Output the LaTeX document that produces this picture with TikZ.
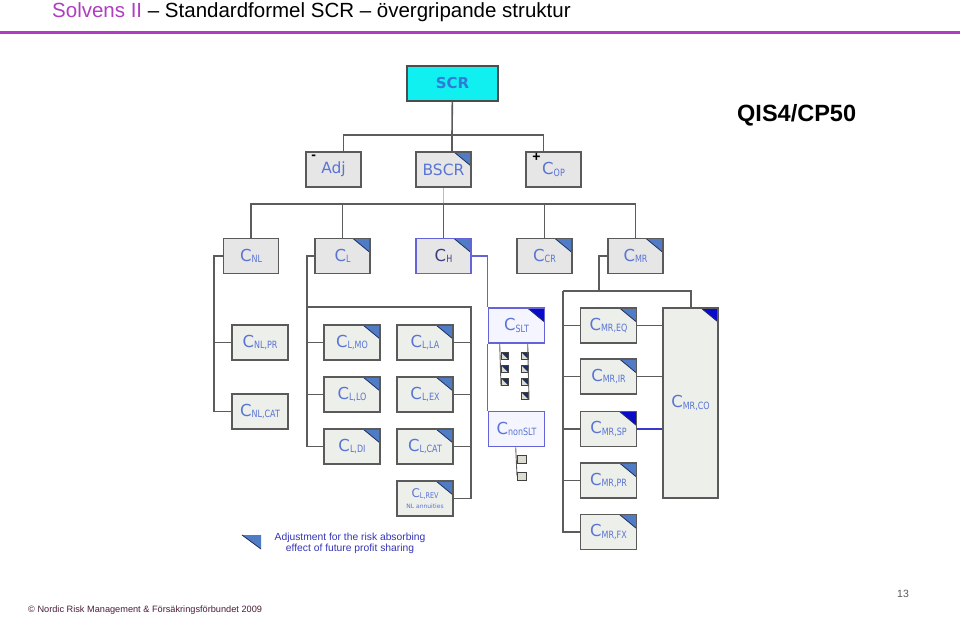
\documentclass[tikz,border=0pt]{standalone}
\usepackage{fontspec}
\setmainfont{Liberation Sans}
\newfontfamily\boxfont{DejaVu Sans}
\newfontfamily\subfont[FakeStretch=0.8]{DejaVu Sans}
\usepackage{xcolor}
\usepackage{tikz}
\usetikzlibrary{positioning}
\definecolor{titlepurple}{HTML}{B03CC4}
\definecolor{boxline}{HTML}{5A5A5A}
\definecolor{boxfill}{HTML}{E6E6E6}
\definecolor{subfill}{HTML}{EDEFEA}
\definecolor{connline}{HTML}{5C5C5C}
\definecolor{labelblue}{HTML}{5A74D4}
\definecolor{cornerblue}{HTML}{4F7CC4}
\definecolor{cornerdark}{HTML}{0A0ACC}
\definecolor{cornerline}{HTML}{1F2F5F}
\definecolor{hblue}{HTML}{6464D8}
\definecolor{bscrblue}{HTML}{A8C0E0}
\definecolor{spblue}{HTML}{3A3AC8}
\definecolor{scrcyan}{HTML}{10F0F0}
\definecolor{scrblue}{HTML}{2E7BD8}
\definecolor{legendblue}{HTML}{3535B5}
\definecolor{footmaroon}{HTML}{4A1E3A}
\definecolor{miniback}{HTML}{DCDCD0}

\newcommand{\csub}[1]{C\raisebox{-1.5pt}{\subfont\fontsize{10}{10}\selectfont #1}}

\tikzset{
  box/.style={draw=boxline, line width=1.6pt, fill=boxfill, minimum width=55pt,
    minimum height=35pt, inner sep=0pt, text=labelblue,
    font=\boxfont\fontsize{16.5}{16.5}\selectfont},
  subbox/.style={box, fill=subfill, minimum width=56pt},
  corner/.style={path picture={
      \fill[#1] (path picture bounding box.north east) -- ++(-17pt,0pt) -- ++(17pt,-14pt) -- cycle;
      \draw[cornerline, line width=0.8pt] ([xshift=-17pt]path picture bounding box.north east)
        -- ([yshift=-14pt]path picture bounding box.north east);}},
  corner/.default=cornerblue,
  mini/.style={draw=black!75, line width=0.6pt, fill=miniback, minimum size=7pt, inner sep=0pt},
  minicorner/.style={mini, path picture={
      \fill[cornerline] (path picture bounding box.north west) -- (path picture bounding box.north east)
        -- (path picture bounding box.south east) -- cycle;}},
  conn/.style={draw=connline, line width=1.6pt},
  hconn/.style={draw=hblue, line width=1.3pt},
  sign/.style={inner sep=0pt, font=\bfseries\fontsize{14}{14}\selectfont}
}

\begin{document}
\begin{tikzpicture}[x=1pt, y=-1pt]
\useasboundingbox (0,0) rectangle (960,618);
\fill[white] (0,0) rectangle (960,618);

% heading
\node[anchor=base west, inner sep=0pt, font=\fontsize{20.5}{20.5}\selectfont] (title) at (52,18)
  {\textcolor{titlepurple}{Solvens II} – Standardformel SCR – övergripande struktur};
\draw[titlepurple, line width=3pt] (0,32.5) -- (960,32.5);
\node[anchor=base west, inner sep=0pt, font=\bfseries\fontsize{23.5}{23.5}\selectfont] (qis) at (737,121) {QIS4/CP50};

% top levels
\node[box, fill=scrcyan, draw=black!70, minimum width=91pt, text=scrblue,
  font=\boxfont\bfseries\fontsize{15}{15}\selectfont] (scr) at (452.5,83.5) {SCR};
\node[box, font=\boxfont\fontsize{15.5}{15.5}\selectfont] (adj) at (333.5,169.5) {Adj};
\node[box, corner, font=\boxfont\fontsize{15.5}{15.5}\selectfont] (bscr) at (443.5,169.5) {BSCR};
\node[box] (cop) at (553.5,169.5) {\csub{OP}};
\node[sign, below right=4pt and 6pt of adj.north west] (adjsign) {-};
\node[sign, below right=2pt and 7pt of cop.north west] (copsign) {+};

% modules
\node[box] (cnl) at (251,256) {\csub{NL}};
\node[box, corner] (cl) at (342.5,256) {\csub{L}};
\node[box, corner, draw=hblue, text=hblue!60!black] (ch) at (443.5,256) {\csub{H}};
\node[box, corner] (ccr) at (544.5,256) {\csub{CR}};
\node[box, corner] (cmr) at (635.5,256) {\csub{MR}};

% non-life
\node[subbox] (cnlpr) at (260,342.5) {\csub{NL,PR}};
\node[subbox] (cnlcat) at (260,411.5) {\csub{NL,CAT}};

% life
\node[subbox, corner] (clmo) at (352,342.5) {\csub{L,MO}};
\node[subbox, corner] (cllo) at (352,394.5) {\csub{L,LO}};
\node[subbox, corner] (cldi) at (352,446.5) {\csub{L,DI}};
\node[subbox, corner] (clla) at (425,342.5) {\csub{L,LA}};
\node[subbox, corner] (clex) at (425,394.5) {\csub{L,EX}};
\node[subbox, corner] (clcat) at (425,446.5) {\csub{L,CAT}};
\node[subbox, corner, align=center, font=\boxfont\fontsize{12}{12}\selectfont] (clrev) at (425,498.5)
  {C\raisebox{-1pt}{\subfont\fontsize{8}{8}\selectfont L,REV}\\[-1pt]{\fontsize{6}{6}\selectfont NL annuities}};

% health
\node[subbox, corner=cornerdark, draw=hblue, fill=blue!4] (cslt) at (516.5,325.5) {\csub{SLT}};
\node[subbox, draw=hblue, fill=blue!4] (cnonslt) at (516.5,429) {\csub{nonSLT}};
\foreach \i/\y in {1/356,2/369,3/382}
  \node[minicorner, anchor=west] (sa\i) at (501,\y) {};
\foreach \i/\y in {1/356,2/369,3/382,4/396}
  \node[minicorner, anchor=east] (sb\i) at (529,\y) {};
\foreach \i/\y in {1/459,2/476}
  \node[mini, minimum width=9pt, minimum height=8pt, anchor=west] (sn\i) at (517,\y) {};

% market
\node[subbox, corner] (mreq) at (608.5,325.5) {\csub{MR,EQ}};
\node[subbox, corner] (mrir) at (608.5,376.5) {\csub{MR,IR}};
\node[subbox, corner=cornerdark] (mrsp) at (608.5,429) {\csub{MR,SP}};
\node[subbox, corner] (mrpr) at (608.5,480.5) {\csub{MR,PR}};
\node[subbox, corner] (mrfx) at (608.5,532) {\csub{MR,FX}};
\node[subbox, corner=cornerdark, minimum width=55pt, minimum height=190pt] (mrco) at (690.5,403) {\csub{MR,CO}};

% connectors
\coordinate (bar1) at (452,135);
\coordinate (bar2) at (443.5,204);
\draw[conn] (scr) -- (bar1);
\draw[conn] ([xshift=10pt]adj.north) |- (bar1) -| ([xshift=-10pt]cop.north);
\draw[conn] (bar1) -- ([xshift=8.5pt]bscr.north);
\draw[draw=bscrblue, line width=1.3pt] (bscr.south) -- (bar2);
\draw[conn] (cnl.north) |- (bar2) -| (cmr.north);
\draw[conn] (cl.north) -- (cl.north |- bar2);
\draw[conn] (ch.north) -- (bar2);
\draw[conn] (ccr.north) -- (ccr.north |- bar2);

\coordinate (nlrail) at (214,256);
\draw[conn] (cnl.west) -- (nlrail) |- (cnlcat.west);
\draw[conn] (cnlpr.west) -- (cnlpr.west -| nlrail);

\coordinate (lrail) at (307,256);
\coordinate (lsplit) at (307,307);
\coordinate (rrail) at (471,307);
\draw[conn] (cl.west) -- (lrail) |- (cldi.west);
\draw[conn] (clmo.west) -- (clmo.west -| lrail);
\draw[conn] (cllo.west) -- (cllo.west -| lrail);
\draw[conn] (lsplit) -- (rrail) |- (clrev.east);
\draw[conn] (clla.east) -- (clla.east -| rrail);
\draw[conn] (clex.east) -- (clex.east -| rrail);
\draw[conn] (clcat.east) -- (clcat.east -| rrail);

\draw[hconn] (ch.east) -| (cslt.north west);
\draw[hconn] (cslt.south west) -- (cnonslt.north west);
\draw[conn, line width=0.9pt] ([xshift=12pt]cslt.south west) -- (sa3.south west);
\draw[conn, line width=0.9pt] ([xshift=40pt]cslt.south west) -- (sb4.south east);
\draw[conn, line width=0.9pt] ([xshift=28pt]cnonslt.south west) -- (sn2.west);

\coordinate (mrsplit) at (599,291);
\coordinate (mrleft) at (563,291);
\coordinate (mrright) at (691,291);
\draw[conn] (cmr.west) -| (mrsplit);
\draw[conn] (mrleft) -- (mrright) -- (mrright |- mrco.north);
\draw[conn] (mrleft) |- (mrfx.west);
\draw[conn] (mreq.west) -- (mreq.west -| mrleft);
\draw[conn] (mrir.west) -- (mrir.west -| mrleft);
\draw[conn] (mrsp.west) -- (mrsp.west -| mrleft);
\draw[conn] (mrpr.west) -- (mrpr.west -| mrleft);
\draw[conn] (mreq.east) -- (mreq.east -| mrco.west);
\draw[conn] (mrir.east) -- (mrir.east -| mrco.west);
\draw[draw=spblue, line width=1.6pt] (mrsp.east) -- (mrsp.east -| mrco.west);

% legend
\fill[cornerblue] (242,535) -- (261,535) -- (261,549) -- cycle;
\draw[cornerline, line width=0.8pt] (242,535) -- (261,549);
\node[align=center, text=legendblue, font=\fontsize{10.3}{11}\selectfont] (legendtext) at (350,543.5)
  {Adjustment for the risk absorbing\\effect of future profit sharing};

% footer
\node[anchor=base west, inner sep=0pt, text=footmaroon, font=\fontsize{9.2}{9.2}\selectfont] (foot) at (28,612)
  {© Nordic Risk Management \& Försäkringsförbundet 2009};
\node[anchor=base west, inner sep=0pt, text=black!65, font=\fontsize{10.5}{10.5}\selectfont] (pagenum) at (897,597) {13};
\end{tikzpicture}
\end{document}
